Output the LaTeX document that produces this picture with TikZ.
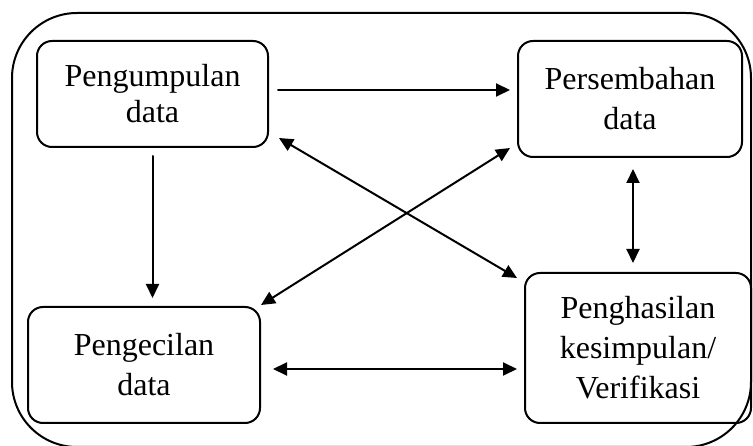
\documentclass[tikz,border=0pt]{standalone}
\usepackage{fontspec}
\setmainfont{Liberation Serif}
\usetikzlibrary{arrows.meta}

\tikzset{
	stage/.style={draw,line width=2pt,rounded corners=15pt,align=center,
		font=\fontsize{32}{40}\selectfont,inner sep=0pt},
	flow/.style={line width=2pt,-{Triangle[length=14pt,width=13pt]}},
	twoway/.style={line width=2pt,{Triangle[length=14pt,width=13pt]}-{Triangle[length=14pt,width=13pt]}}
}

\begin{document}
\begin{tikzpicture}[x=1pt,y=-1pt,cap=round]
		\useasboundingbox (0,0) rectangle (753,446);

		% draw the outer frame
		\draw[line width=2pt,rounded corners=65pt] (12,13) rectangle (751,447);

		% draw the four stages
		\node[stage,minimum width=231pt,minimum height=106pt,font=\fontsize{32}{36}\selectfont] (pg) at (152.5,94) {Pengumpulan\\data};
		\node[stage,minimum width=224pt,minimum height=116pt] (ps) at (630,99) {Persembahan\\data};
		\node[stage,minimum width=232pt,minimum height=116pt] (pc) at (144,365) {Pengecilan\\data};
		\node[stage,minimum width=226pt,minimum height=150pt] (pk) at (638,348) {Penghasilan\\kesimpulan/\\Verifikasi};

		% points where the arrows start and end
		\coordinate (a1) at ([yshift=4pt]pg.east);
		\coordinate (a2) at ([yshift=-4pt]pc.east);
		\coordinate (a3) at ([xshift=3pt]ps.south);
		\coordinate (d1) at ([shift={(10pt,10pt)}]pg.south east);
		\coordinate (d2) at ([shift={(-7pt,-6pt)}]pk.north west);
		\coordinate (d3) at ([shift={(0pt,1pt)}]pc.north east);
		\coordinate (d4) at ([shift={(-7pt,10pt)}]ps.south west);

		% one way arrows
		\draw[flow,shorten <=9pt,shorten >=7pt] (a1) -- (a1 -| ps.west);
		\draw[flow,shorten <=8pt,shorten >=8pt] (pg.south) -- (pg.south |- pc.north);

		% two way arrows
		\draw[twoway,shorten <=12pt,shorten >=7pt] (a2) -- (a2 -| pk.west);
		\draw[twoway,shorten <=11pt,shorten >=9pt] (a3) -- (a3 |- pk.north);
		\draw[twoway] (d1) -- (d2);
		\draw[twoway] (d3) -- (d4);
	\end{tikzpicture}
\end{document}
